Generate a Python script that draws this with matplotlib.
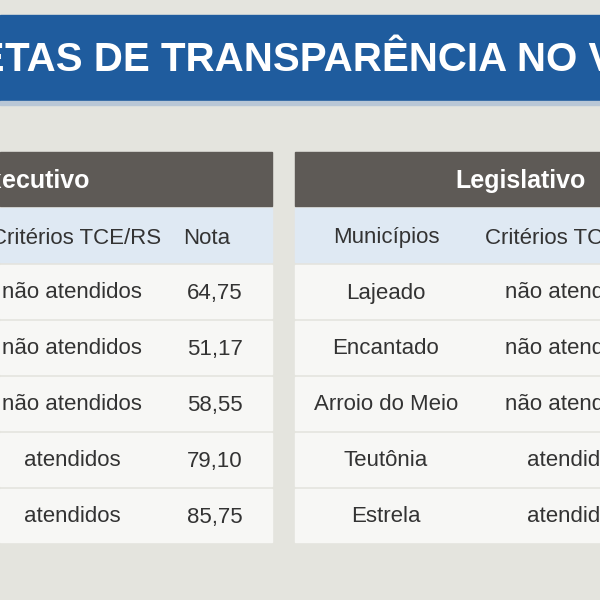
import matplotlib
matplotlib.use("Agg")
import matplotlib.pyplot as plt
from matplotlib.patches import Rectangle

title_hidden = "ME"
title = "TAS DE TRANSPARÊNCIA NO VALE"
left_header_hidden = "Ex"
left_header = "ecutivo"
right_header = "Legislativo"
left_cols = ["Critérios TCE/RS", "Nota"]
right_cols = ["Municípios", "Critérios TCE/RS"]
left_criteria = ["não atendidos", "não atendidos", "não atendidos", "atendidos", "atendidos"]
left_notas = ["64,75", "51,17", "58,55", "79,10", "85,75"]
right_munis = ["Lajeado", "Encantado", "Arroio do Meio", "Teutônia", "Estrela"]
right_criteria = ["não atendidos", "não atendidos", "não atendidos", "atendidos", "atendidos"]

FONT = "Liberation Sans"
TXT = "#333333"
fig = plt.figure(figsize=(6, 6), dpi=100)
fig.patch.set_facecolor("#e4e4de")
ax = fig.add_axes([0, 0, 1, 1])
ax.set_xlim(0, 600); ax.set_ylim(600, 0); ax.axis("off")

ax.add_patch(Rectangle((0, 15), 600, 86, color="#1f5c9e"))
ax.add_patch(Rectangle((0, 101), 600, 4, color="#b9c7d6"))
ax.text(5, 60, title_hidden, ha="right", va="center", color="white", fontsize=29,
        fontweight="bold", family=FONT)
ax.text(5, 60, title, ha="left", va="center", color="white", fontsize=29,
        fontweight="bold", family=FONT)

def table(x0, x1, cols, colx):
    ax.add_patch(Rectangle((x0, 152), x1 - x0, 54, color="#5e5a56"))
    ax.add_patch(Rectangle((x0, 208), x1 - x0, 54, color="#dfe9f3"))
    for c, cx in zip(cols, colx):
        ax.text(cx, 238, c, ha="center", va="center", color=TXT, fontsize=16, family=FONT)
    for i in range(5):
        y = 265 + i * 56
        ax.add_patch(Rectangle((x0, y), x1 - x0, 53, color="#f7f7f5"))

table(0, 272, left_cols, [76, 207])
table(295, 600, right_cols, [386, 570])
ax.text(2, 181, left_header_hidden, ha="right", va="center", color="white", fontsize=18,
        fontweight="bold", family=FONT)
ax.text(2, 181, left_header, ha="left", va="center", color="white", fontsize=18,
        fontweight="bold", family=FONT)
ax.text(455, 181, right_header, ha="left", va="center", color="white", fontsize=18,
        fontweight="bold", family=FONT)

for i in range(5):
    y = 293 + i * 56
    ax.text(72, y, left_criteria[i], ha="center", va="center", color=TXT, fontsize=16, family=FONT)
    ax.text(215, y, left_notas[i], ha="center", va="center", color=TXT, fontsize=16, family=FONT)
    ax.text(386, y, right_munis[i], ha="center", va="center", color=TXT, fontsize=16, family=FONT)
    ax.text(575, y, right_criteria[i], ha="center", va="center", color=TXT, fontsize=16, family=FONT)

fig.savefig("out.png", dpi=100, facecolor=fig.get_facecolor())
